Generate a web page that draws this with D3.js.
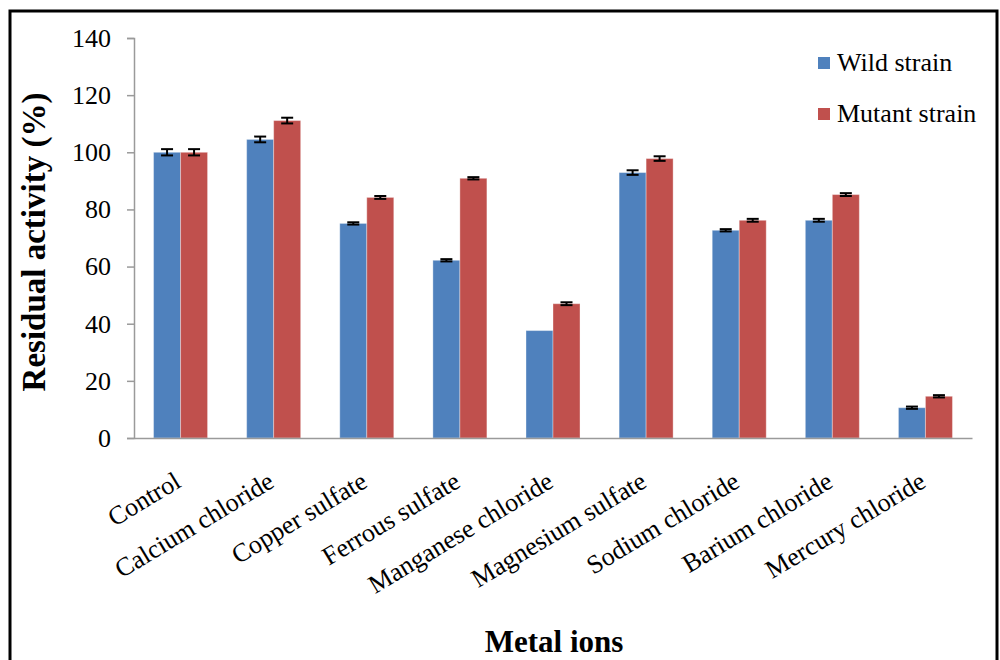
<!DOCTYPE html>
<html>
<head>
<meta charset="utf-8">
<script src="https://cdn.jsdelivr.net/npm/d3@7"></script>
<style>
  html, body { margin: 0; padding: 0; background: #fff; }
  svg { display: block; }
  text { font-family: "Liberation Serif", "Times New Roman", Times, serif; fill: #000; }
</style>
</head>
<body>
<svg id="chart" width="1000" height="660"></svg>
<script>
const categories = ["Control", "Calcium chloride", "Copper sulfate", "Ferrous sulfate",
  "Manganese chloride", "Magnesium sulfate", "Sodium chloride", "Barium chloride", "Mercury chloride"];
const seriesNames = ["Wild strain", "Mutant strain"];
const wildValues   = [100, 104.5, 75.1, 62.2, 37.6, 92.9, 72.7, 76.2, 10.6];
const mutantValues = [100, 111.1, 84.2, 90.9, 47.0, 97.8, 76.2, 85.2, 14.6];
const wildErrors   = [1.1, 1.0, 0.4, 0.4, 0, 0.8, 0.4, 0.5, 0.4];
const mutantErrors = [1.1, 1.0, 0.5, 0.4, 0.5, 0.8, 0.5, 0.5, 0.4];
const yTicks = [0, 20, 40, 60, 80, 100, 120, 140];
const colors = ["#4f81bd", "#c0504d"];

const FONT = "'Liberation Serif', 'Times New Roman', Times, serif";
const svg = d3.select("#chart");

// Frame
svg.append("rect").attr("x", 10).attr("y", 11).attr("width", 987).attr("height", 700)
  .attr("fill", "none").attr("stroke", "#000").attr("stroke-width", 3);

const plot = { left: 134, right: 972, top: 38, bottom: 438 };

const x0 = d3.scaleBand().domain(categories).range([plot.left, plot.right])
  .paddingInner(0.42).paddingOuter(0.21);
const x1 = d3.scaleBand().domain(seriesNames).range([0, x0.bandwidth()]).padding(0);
const y = d3.scaleLinear().domain([0, 140]).range([plot.bottom, plot.top]);

const data = categories.map((c, i) => ({
  cat: c,
  vals: [
    { s: seriesNames[0], v: wildValues[i], e: wildErrors[i], color: colors[0] },
    { s: seriesNames[1], v: mutantValues[i], e: mutantErrors[i], color: colors[1] }
  ]
}));

// Y axis
const yAxis = d3.axisLeft(y).tickValues(yTicks).tickSize(7).tickPadding(16).tickFormat(d3.format("d"));
const gy = svg.append("g").attr("transform", `translate(${plot.left},0)`).call(yAxis)
  .attr("font-family", FONT);
gy.select(".domain").attr("stroke", "#9a9a9a").attr("stroke-width", 1.5);
gy.selectAll(".tick line").attr("stroke", "#9a9a9a").attr("stroke-width", 1.5);
gy.selectAll(".tick text").style("font-family", FONT)
  .style("font-size", "26px").attr("fill", "#000");

// Bars
const groups = svg.append("g").selectAll("g").data(data).join("g")
  .attr("transform", d => `translate(${x0(d.cat)},0)`);
groups.selectAll("rect").data(d => d.vals).join("rect")
  .attr("x", d => x1(d.s))
  .attr("y", d => y(d.v))
  .attr("width", x1.bandwidth())
  .attr("height", d => y(0) - y(d.v))
  .attr("fill", d => d.color)
  .attr("stroke", "rgba(255,255,255,0.35)")
  .attr("stroke-width", 1);

// Error bars
const eb = groups.selectAll("g.err").data(d => d.vals.filter(v => v.e > 0)).join("g").attr("class", "err");
const capHalf = 6;
const cx = d => x1(d.s) + x1.bandwidth() / 2;
eb.append("line")
  .attr("x1", cx).attr("x2", cx)
  .attr("y1", d => y(d.v + d.e)).attr("y2", d => y(d.v - d.e))
  .attr("stroke", "#000").attr("stroke-width", 2);
eb.append("line")
  .attr("x1", d => cx(d) - capHalf).attr("x2", d => cx(d) + capHalf)
  .attr("y1", d => y(d.v + d.e)).attr("y2", d => y(d.v + d.e))
  .attr("stroke", "#000").attr("stroke-width", 2);
eb.append("line")
  .attr("x1", d => cx(d) - capHalf).attr("x2", d => cx(d) + capHalf)
  .attr("y1", d => y(d.v - d.e)).attr("y2", d => y(d.v - d.e))
  .attr("stroke", "#000").attr("stroke-width", 2);

// X axis
const xAxis = d3.axisBottom(x0).tickSize(0).tickFormat("");
const gx = svg.append("g").attr("transform", `translate(0,${plot.bottom})`).call(xAxis);
gx.select(".domain").attr("stroke", "#9a9a9a").attr("stroke-width", 1.5);

// X labels rotated
svg.append("g").selectAll("text").data(categories).join("text")
  .attr("transform", d => `translate(${x0(d) + x0.bandwidth() / 2 + 2},486) rotate(-31)`)
  .attr("text-anchor", "end")
  .style("font-family", FONT)
  .style("font-size", "26px")
  .text(d => d);

// Axis titles
svg.append("text")
  .attr("transform", `translate(45,242) rotate(-90)`)
  .attr("text-anchor", "middle")
  .style("font-family", FONT)
  .style("font-size", "33px").style("font-weight", "bold")
  .text("Residual activity (%)");

svg.append("text")
  .attr("x", 554).attr("y", 652)
  .attr("text-anchor", "middle")
  .style("font-family", FONT)
  .style("font-size", "31px").style("font-weight", "bold")
  .text("Metal ions");

// Legend
const legend = svg.append("g").selectAll("g").data(seriesNames).join("g")
  .attr("transform", (d, i) => `translate(818,${57 + i * 51})`);
legend.append("rect").attr("width", 12).attr("height", 12).attr("fill", (d, i) => colors[i]);
legend.append("text").attr("x", 19).attr("y", 14)
  .style("font-family", FONT).style("font-size", "26px").text(d => d);
</script>
</body>
</html>
